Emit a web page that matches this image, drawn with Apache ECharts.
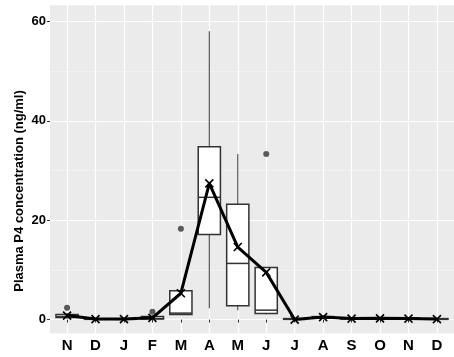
<!DOCTYPE html>
<html>
<head>
<meta charset="utf-8">
<script src="https://cdn.jsdelivr.net/npm/echarts@6/dist/echarts.min.js"></script>
<style>html,body{margin:0;padding:0;background:#fff;}#c{width:454px;height:357px;}</style>
</head>
<body>
<div id="c"></div>
<script>
// Month labels (Nov to Dec of following year)
const months = ['N','D','J','F','M','A','M','J','J','A','S','O','N','D'];
// Box statistics per month
const boxMin    = [0.2, 0.0, 0.0, 0.0, 0.9, 2.3, 1.9, 1.0, 0.0, 0.2, 0.0, 0.0, 0.0, 0.0];
const boxQ1     = [0.4, 0.05,0.05,0.1, 1.0, 17.1, 2.8, 1.2, 0.05,0.3, 0.1, 0.1, 0.1, 0.05];
const boxMedian = [0.6, 0.1, 0.1, 0.2, 1.3, 24.6, 11.3, 1.9, 0.1, 0.4, 0.2, 0.2, 0.2, 0.1];
const boxQ3     = [1.0, 0.15,0.15,0.6, 5.8, 34.8, 23.2, 10.5, 0.2, 0.6, 0.3, 0.35,0.3, 0.2];
const boxMax    = [1.3, 0.3, 0.3, 0.9, 5.8, 58.0, 33.3, 10.5, 0.3, 0.8, 0.5, 0.5, 0.5, 0.3];
// Outliers: [month index (1-based), value]
const outlierMonth = [1, 4, 5, 8];
const outlierValue = [2.4, 1.6, 18.3, 33.3];
// Monthly means
const means = [0.8, 0.1, 0.1, 0.35, 5.3, 27.4, 14.6, 9.5, 0.0, 0.5, 0.2, 0.25, 0.2, 0.1];
const yTicks = [0, 20, 40, 60];
const yTitle = 'Plasma P4 concentration (ng/ml)';

const xs = months.map((m, i) => i + 1);
const boxData = xs.map((x, i) => [x, boxMin[i], boxQ1[i], boxMedian[i], boxQ3[i], boxMax[i]]);
const outData = outlierMonth.map((x, i) => [x, outlierValue[i]]);
const meanData = xs.map((x, i) => [x, means[i]]);

const BOX_W = 0.78;
const chart = echarts.init(document.getElementById('c'), null, {renderer: 'canvas'});
const font = '"Liberation Sans", Arial, sans-serif';

chart.setOption({
  animation: false,
  backgroundColor: '#ffffff',
  grid: {left: 50, top: 5, width: 409.7, height: 328, show: true, backgroundColor: '#EBEBEB', borderWidth: 0},
  xAxis: {
    type: 'value', min: 0.4, max: 14.6, splitNumber: 14,
    axisLine: {show: false},
    axisTick: {show: true, length: 3, customValues: xs, lineStyle: {color: '#333', width: 1}},
    axisLabel: {customValues: xs, formatter: v => months[Math.round(v) - 1] || '', color: '#000', fontWeight: 'bold', fontSize: 15, fontFamily: font, margin: 5},
    splitLine: {show: true, lineStyle: {color: '#ffffff', width: 1.2}}
  },
  yAxis: [{
    type: 'value', min: -2.7, max: 63.3, splitNumber: 3,
    axisLine: {show: false},
    axisTick: {show: true, length: 3, customValues: yTicks, lineStyle: {color: '#333', width: 1}},
    axisLabel: {customValues: yTicks, color: '#000', fontWeight: 'bold', fontSize: 13, fontFamily: font, margin: 4},
    splitLine: {show: true, lineStyle: {color: '#ffffff', width: 1.2}}
  }, {
    type: 'value', min: -12.7, max: 53.3, splitNumber: 3, position: 'right',
    axisLine: {show: false}, axisTick: {show: false}, axisLabel: {show: false},
    splitLine: {show: true, lineStyle: {color: '#F5F5F5', width: 0.7}}
  }],
  graphic: [{
    type: 'text', x: 19, y: 191, rotation: Math.PI / 2,
    style: {text: yTitle, font: 'bold 13px ' + font, fill: '#000', textAlign: 'center', textVerticalAlign: 'middle'}
  }],
  series: [{
    type: 'custom', yAxisIndex: 0, z: 2,
    data: boxData,
    encode: {x: 0, y: [1, 2, 3, 4, 5]},
    renderItem: function (params, api) {
      const x = api.value(0);
      const pLo = api.coord([x, api.value(1)]);
      const pQ1 = api.coord([x, api.value(2)]);
      const pMed = api.coord([x, api.value(3)]);
      const pQ3 = api.coord([x, api.value(4)]);
      const pHi = api.coord([x, api.value(5)]);
      const hw = api.size([BOX_W, 0])[0] / 2;
      const ws = {stroke: '#555', lineWidth: 1.2};
      return {type: 'group', children: [
        {type: 'line', shape: {x1: pLo[0], y1: pLo[1], x2: pQ1[0], y2: pQ1[1]}, style: ws},
        {type: 'line', shape: {x1: pQ3[0], y1: pQ3[1], x2: pHi[0], y2: pHi[1]}, style: ws},
        {type: 'rect', shape: {x: pQ3[0] - hw, y: pQ3[1], width: 2 * hw, height: pQ1[1] - pQ3[1]}, style: {fill: '#fff', stroke: '#333', lineWidth: 1.5}},
        {type: 'line', shape: {x1: pMed[0] - hw, y1: pMed[1], x2: pMed[0] + hw, y2: pMed[1]}, style: {stroke: '#333', lineWidth: 1.5}}
      ]};
    }
  }, {
    type: 'scatter', yAxisIndex: 0, z: 3,
    data: outData, symbol: 'circle', symbolSize: 6,
    itemStyle: {color: '#333'}
  }, {
    type: 'line', yAxisIndex: 0, z: 4,
    data: meanData,
    symbol: 'path://M0,0L10,10M10,0L0,10', symbolSize: [8, 8],
    showAllSymbol: true,
    lineStyle: {color: '#000', width: 3},
    itemStyle: {color: 'rgba(0,0,0,0)', borderColor: '#000', borderWidth: 1.6}
  }]
});
</script>
</body>
</html>
